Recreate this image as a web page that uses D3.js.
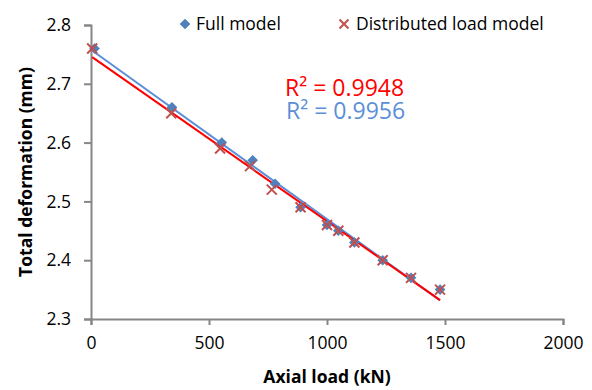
<!DOCTYPE html>
<html>
<head>
<meta charset="utf-8">
<script src="https://cdn.jsdelivr.net/npm/d3@7"></script>
<style>
  body { margin: 0; background: #fff; }
  svg text { font-family: 'Open Sans', sans-serif; fill: #000; }
</style>
</head>
<body>
<div id="chart"></div>
<script>
// values
const fullLoad = [15, 343, 554, 685, 780, 888, 1000, 1048, 1116, 1236, 1356, 1479];
const fullDeform = [2.76, 2.66, 2.60, 2.57, 2.53, 2.49, 2.46, 2.45, 2.43, 2.40, 2.37, 2.35];
const distLoad = [5, 340, 547, 674, 766, 888, 1000, 1048, 1116, 1236, 1356, 1479];
const distDeform = [2.76, 2.65, 2.59, 2.56, 2.52, 2.49, 2.46, 2.45, 2.43, 2.40, 2.37, 2.35];
const xTicks = [0, 500, 1000, 1500, 2000];
const yTicks = [2.3, 2.4, 2.5, 2.6, 2.7, 2.8];
const seriesNames = ['Full model', 'Distributed load model'];
const r2Labels = ['R² = 0.9956', 'R² = 0.9948'];

const width = 592, height = 390;
const margin = { top: 25, right: 29, bottom: 71, left: 91 };

const svg = d3.select('#chart')
  .append('svg')
  .attr('width', width)
  .attr('height', height);

const x = d3.scaleLinear().domain([0, 2000]).range([margin.left, width - margin.right]);
const y = d3.scaleLinear().domain([2.3, 2.8]).range([height - margin.bottom, margin.top]);

const axisColor = '#868686';

// axes
const xAxis = svg.append('g')
  .attr('transform', `translate(0,${y(2.3)})`)
  .call(d3.axisBottom(x).tickValues(xTicks).tickSize(6).tickPadding(12).tickFormat(d3.format('d')));
const yAxis = svg.append('g')
  .attr('transform', `translate(${x(0)},0)`)
  .call(d3.axisLeft(y).tickValues(yTicks).tickSize(7).tickPadding(13).tickFormat(d3.format('.1f')));

[xAxis, yAxis].forEach((g) => {
  g.select('.domain').attr('stroke', axisColor).attr('stroke-width', 2);
  g.selectAll('.tick line').attr('stroke', axisColor).attr('stroke-width', 2);
  g.selectAll('.tick text')
    .attr('fill', '#000')
    .style('font-family', "'Open Sans', sans-serif")
    .style('font-size', '17.5px');
});

// axis titles
svg.append('text')
  .attr('x', (x(0) + x(2000)) / 2)
  .attr('y', 383)
  .attr('text-anchor', 'middle')
  .style('font-size', '17.5px')
  .style('font-weight', 'bold')
  .text('Axial load (kN)');

svg.append('text')
  .attr('transform', `translate(32,${(y(2.3) + y(2.8)) / 2}) rotate(-90)`)
  .attr('text-anchor', 'middle')
  .style('font-size', '17.5px')
  .style('font-weight', 'bold')
  .text('Total deformation (mm)');

// least-squares trend lines
const fit = (xs, ys) => {
  const mx = d3.mean(xs), my = d3.mean(ys);
  const slope = d3.sum(xs, (v, i) => (v - mx) * (ys[i] - my)) / d3.sum(xs, (v) => (v - mx) ** 2);
  return { slope, intercept: my - slope * mx };
};

const line = d3.line().x((d) => x(d[0])).y((d) => y(d[1]));

const trend = (xs, ys, color) => {
  const f = fit(xs, ys);
  const ext = d3.extent(xs);
  svg.append('path')
    .attr('d', line(ext.map((v) => [v, f.intercept + f.slope * v])))
    .attr('fill', 'none')
    .attr('stroke', color)
    .attr('stroke-width', 2);
};

trend(fullLoad, fullDeform, '#5B8FD8');
trend(distLoad, distDeform, '#FF0000');

const diamond = d3.symbol().type(d3.symbolDiamond2).size(72);
const cross = (cx, cy, r) => `M${cx - r},${cy - r}L${cx + r},${cy + r}M${cx - r},${cy + r}L${cx + r},${cy - r}`;

// full model markers
svg.append('g')
  .selectAll('path')
  .data(fullLoad.map((v, i) => [v, fullDeform[i]]))
  .join('path')
  .attr('transform', (d) => `translate(${x(d[0])},${y(d[1])})`)
  .attr('d', diamond)
  .attr('fill', '#4F81BD');

// distributed load markers
svg.append('g')
  .selectAll('path')
  .data(distLoad.map((v, i) => [v, distDeform[i]]))
  .join('path')
  .attr('d', (d) => cross(x(d[0]), y(d[1]), 5))
  .attr('stroke', '#C0504D')
  .attr('stroke-width', 2)
  .attr('fill', 'none');

// legend
svg.append('path')
  .attr('transform', 'translate(185,24)')
  .attr('d', diamond)
  .attr('fill', '#4F81BD');
svg.append('text')
  .attr('x', 196).attr('y', 30)
  .style('font-size', '17.5px')
  .text(seriesNames[0]);

svg.append('path')
  .attr('d', cross(344, 24, 4.5))
  .attr('stroke', '#C0504D')
  .attr('stroke-width', 2);
svg.append('text')
  .attr('x', 356).attr('y', 30)
  .style('font-size', '17.5px')
  .text(seriesNames[1]);

// R² labels, stacked in one text block
const r2 = svg.append('text')
  .attr('x', 285).attr('y', 96)
  .style('font-size', '23px');
r2.append('tspan')
  .attr('x', 285)
  .style('fill', '#FF0000')
  .text(r2Labels[1]);
r2.append('tspan')
  .attr('x', 286).attr('dy', 23)
  .style('fill', '#5B8FD8')
  .text(r2Labels[0]);
</script>
</body>
</html>
